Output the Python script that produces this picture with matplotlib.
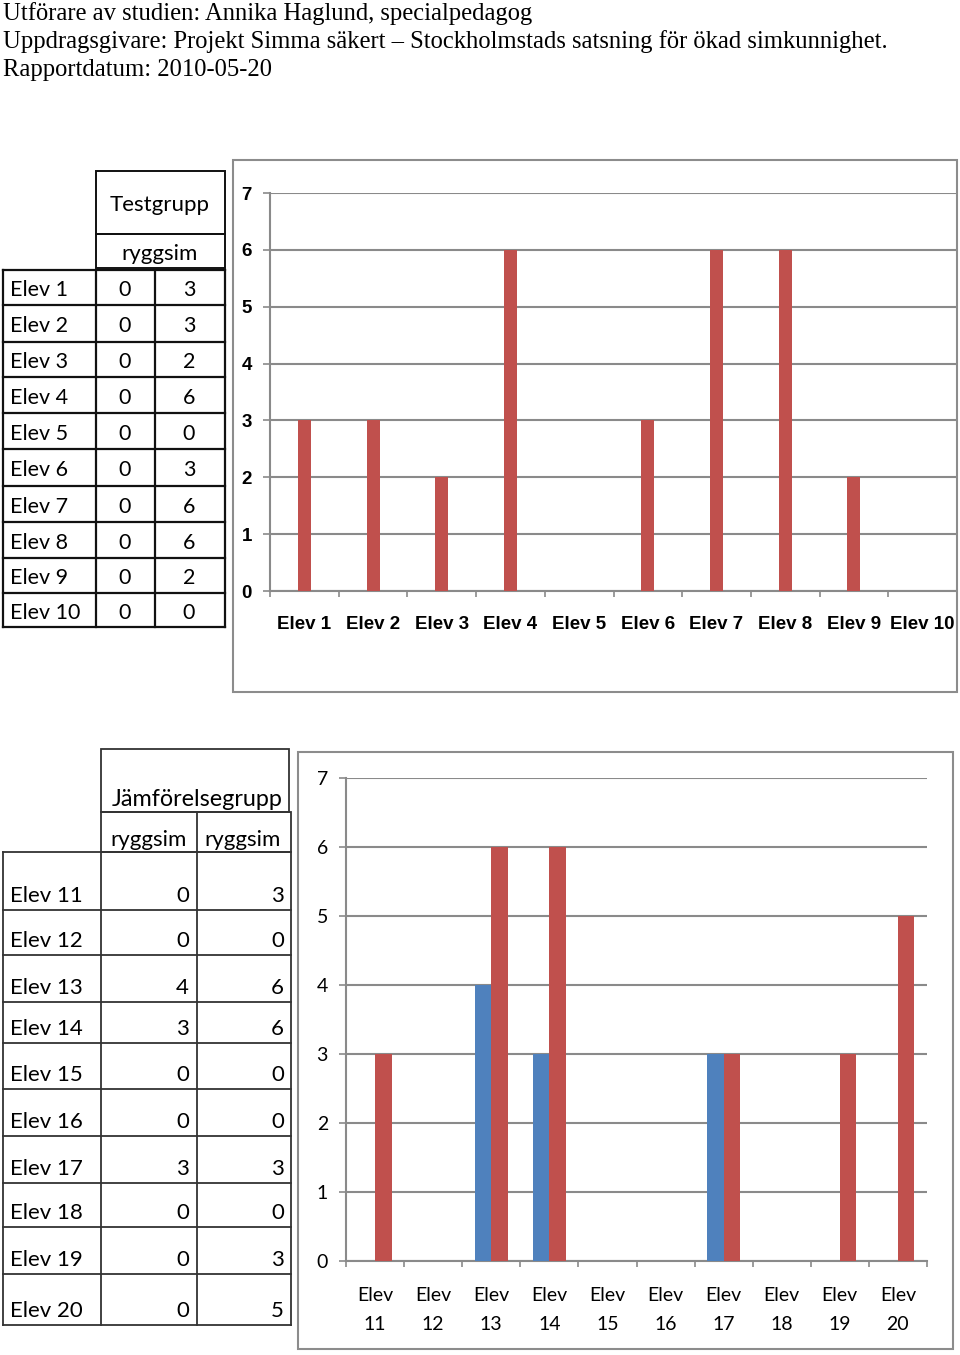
import matplotlib
matplotlib.use('Agg')
import matplotlib.pyplot as plt
from matplotlib.patches import Rectangle
import numpy as np

header_lines = [
    "Utförare av studien: Annika Haglund, specialpedagog",
    "Uppdragsgivare: Projekt Simma säkert \u2013 Stockholmstads satsning för ökad simkunnighet.",
    "Rapportdatum: 2010-05-20",
]

test_students = ["Elev 1", "Elev 2", "Elev 3", "Elev 4", "Elev 5",
                 "Elev 6", "Elev 7", "Elev 8", "Elev 9", "Elev 10"]
test_before = [0, 0, 0, 0, 0, 0, 0, 0, 0, 0]
test_after = [3, 3, 2, 6, 0, 3, 6, 6, 2, 0]

comp_students = ["Elev 11", "Elev 12", "Elev 13", "Elev 14", "Elev 15",
                 "Elev 16", "Elev 17", "Elev 18", "Elev 19", "Elev 20"]
comp_before = [0, 0, 4, 3, 0, 0, 3, 0, 0, 0]
comp_after = [3, 0, 6, 6, 0, 0, 3, 0, 3, 5]

yticks = [0, 1, 2, 3, 4, 5, 6, 7]

RED = '#C0504D'
BLUE = '#4F81BD'
GRID = '#8a8a8a'
W, H = 960, 1355

table_font = ['Lato', 'DejaVu Sans']
narrow = ['Liberation Sans Narrow', 'Liberation Sans', 'DejaVu Sans']

fig = plt.figure(figsize=(W / 100, H / 100), dpi=100)

# background "page" axes in pixel coordinates
bg = fig.add_axes([0, 0, 1, 1])
bg.set_xlim(0, W)
bg.set_ylim(H, 0)
bg.axis('off')

for i, line in enumerate(header_lines):
    bg.text(3, 20 + 28 * i, line, fontsize=17.7, family='Liberation Serif',
            va='baseline', ha='left')


def hline(y, x0, x1, lw=1.6, c='#111111'):
    bg.plot([x0, x1], [y, y], color=c, lw=lw, solid_capstyle='projecting')


def vline(x, y0, y1, lw=1.6, c='#111111'):
    bg.plot([x, x], [y0, y1], color=c, lw=lw, solid_capstyle='projecting')


# ---- top table (Testgrupp)
tfs = 15.5
tcols = [3, 96, 155, 225]
trows = [270, 305, 342, 377, 413, 449, 486, 522, 558, 593, 627]
bg.add_patch(Rectangle((96, 171), 129, 63, fill=False, ec='#111111', lw=1.4))
bg.add_patch(Rectangle((96, 234), 129, 34, fill=False, ec='#111111', lw=1.4))
bg.text(160, 205, "Testgrupp", family=table_font, fontsize=16, ha='center', va='center')
bg.text(160, 254, "ryggsim", family=table_font, fontsize=16, ha='center', va='center')
for y in trows:
    hline(y, tcols[0], tcols[-1])
for x in tcols:
    vline(x, trows[0], trows[-1])
for i in range(len(test_students)):
    yc = (trows[i] + trows[i + 1]) / 2 + 3
    bg.text(10, yc, test_students[i], family=table_font, fontsize=tfs, va='center')
    bg.text(125, yc, str(test_before[i]), family=table_font, fontsize=tfs, va='center', ha='center')
    bg.text(189, yc, str(test_after[i]), family=table_font, fontsize=tfs, va='center', ha='center')

# ---- bottom table (Jämförelsegrupp)
bfs = 16
bcols = [3, 101, 197, 291]
brows = [852, 910, 955, 1002, 1043, 1089, 1136, 1183, 1227, 1274, 1325]
bc = '#333333'
bg.add_patch(Rectangle((101, 749), 188, 63, fill=False, ec=bc, lw=1.3))
bg.add_patch(Rectangle((101, 812), 190, 40, fill=False, ec=bc, lw=1.3))
vline(197, 812, 852, lw=1.3, c=bc)
bg.text(112, 806, "Jämförelsegrupp", family=table_font, fontsize=16.8, va='baseline')
bg.text(149, 846, "ryggsim", family=table_font, fontsize=bfs, va='baseline', ha='center')
bg.text(243, 846, "ryggsim", family=table_font, fontsize=bfs, va='baseline', ha='center')
for y in brows:
    hline(y, bcols[0], bcols[-1], lw=1.3, c=bc)
for x in bcols:
    vline(x, brows[0], brows[-1], lw=1.3, c=bc)
for i in range(len(comp_students)):
    yb = brows[i + 1] - 8
    bg.text(10, yb, comp_students[i], family=table_font, fontsize=bfs, va='baseline')
    bg.text(189, yb, str(comp_before[i]), family=table_font, fontsize=bfs, va='baseline', ha='right')
    bg.text(284, yb, str(comp_after[i]), family=table_font, fontsize=bfs, va='baseline', ha='right')


def fig_rect(x0, x1, ytop, ybot):
    return [x0 / W, 1 - ybot / H, (x1 - x0) / W, (ybot - ytop) / H]


def style_axes(ax, ncat, xmax, label_font, bold, lab_size, xpad):
    ax.set_ylim(0, 7)
    ax.set_xlim(-0.5, xmax)
    ax.set_yticks(yticks)
    ax.grid(axis='y', color=GRID, lw=1.5)
    ax.set_axisbelow(True)
    for s in ['top', 'right']:
        ax.spines[s].set_visible(False)
    for s in ['left', 'bottom']:
        ax.spines[s].set_color(GRID)
        ax.spines[s].set_linewidth(1.5)
    ax.tick_params(axis='y', length=5, width=1.2, color=GRID, pad=8)
    ax.set_xticks(np.arange(-0.5, ncat, 1.0), minor=True)
    ax.tick_params(axis='x', which='minor', length=4.5, width=1.2, color=GRID)
    ax.tick_params(axis='x', which='major', length=0, pad=xpad)
    weight = 'bold' if bold else 'normal'
    for lab in ax.get_yticklabels() + ax.get_xticklabels():
        lab.set_family(label_font)
        lab.set_fontweight(weight)
        lab.set_fontsize(lab_size)


# ---- top chart
ax1 = fig.add_axes(fig_rect(270, 957, 193, 591))
x1 = np.arange(len(test_students))
ax1.bar(x1, test_after, width=0.19, color=RED, zorder=3)
ax1.set_xticks(x1)
ax1.set_xticklabels(test_students)
style_axes(ax1, len(test_students), (957 - 270) / 69 - 0.5, narrow, True, 13.5, 18)
ax1.set_facecolor('none')

# ---- bottom chart
ax2 = fig.add_axes(fig_rect(346, 927, 778, 1261))
x2 = np.arange(len(comp_students))
w = 0.284
ax2.bar(x2 - w / 2, comp_before, width=w, color=BLUE, zorder=3)
ax2.bar(x2 + w / 2, comp_after, width=w, color=RED, zorder=3)
ax2.set_xticks(x2)
ax2.set_xticklabels([s.replace(' ', '\n') for s in comp_students], linespacing=1.8)
style_axes(ax2, len(comp_students), 9.5, table_font, False, 14, 19)
ax2.tick_params(axis='y', pad=8)
ax2.set_facecolor('none')

# chart frames and clipping of the overflowing top chart
fig.add_artist(Rectangle((957.5 / W, 0), 3 / W, 1, transform=fig.transFigure,
                         color='white', zorder=20))
for (x0, x1_, yt, yb) in [(233, 957, 160, 692), (298, 953, 752, 1349)]:
    fig.add_artist(Rectangle((x0 / W, 1 - yb / H), (x1_ - x0) / W, (yb - yt) / H,
                             transform=fig.transFigure, fill=False, ec='#8c8c8c',
                             lw=1.5, zorder=21))

fig.savefig('out.png', dpi=100)
